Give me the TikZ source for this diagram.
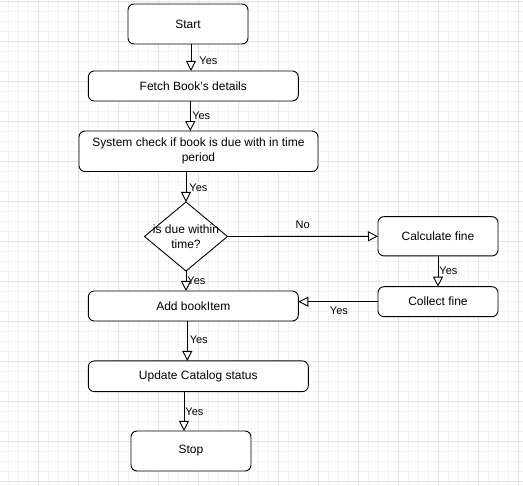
\documentclass[tikz,border=0pt]{standalone}
\usepackage{fontspec}
\setmainfont{Liberation Sans}
\usetikzlibrary{arrows.meta,shapes,positioning,calc,backgrounds}
\definecolor{gridmaj}{HTML}{E2E2E2}
\definecolor{gridmin}{HTML}{F4F4F4}

\begin{document}
\begin{tikzpicture}
[x=1pt,y=-1pt,
Proc/.style={draw,rounded corners=6pt,fill=white,line width=0.9pt,inner sep=0pt,outer sep=0pt,align=center,font=\fontsize{12}{15}\selectfont},
Dec/.style={draw,diamond,fill=white,line width=0.9pt,inner sep=0pt,outer sep=0pt,minimum width=83pt,minimum height=69pt},
dedge/.style={black,line width=0.9pt,-{Triangle[open,length=10pt,width=10pt]}},
lbl/.style={inner sep=0pt,font=\fontsize{11}{13}\selectfont}]
%%
\useasboundingbox (0,0) rectangle (523,486);
%%%%%%%%%%%%%%%%%%
% Grid
%%%%%%%%%%%%%%%%%%
\begin{pgfonlayer}{background}
\fill[white] (0,0) rectangle (523,486);
\foreach \x in {8.5,18.5,...,518.5} \draw[gridmin,line width=0.6pt] (\x,0) -- (\x,486);
\foreach \y in {11.7,21.7,...,481.7} \draw[gridmin,line width=0.6pt] (0,\y) -- (523,\y);
\foreach \x in {38.5,78.5,...,518.5} \draw[gridmaj,line width=0.8pt] (\x,0) -- (\x,486);
\foreach \y in {1.7,41.7,...,481.7} \draw[gridmaj,line width=0.8pt] (0,\y) -- (523,\y);
\end{pgfonlayer}
%%
%%%%%%%%%%%%%%%%%%
% Steps
%%%%%%%%%%%%%%%%%%
\node[Proc,minimum width=120pt,minimum height=40pt] (start) at (188,24) {Start};
\node[Proc,minimum width=210pt,minimum height=30pt] (fetch) at (193.3,86) {Fetch Book's details};
\node[Proc,minimum width=239pt,minimum height=40.5pt] (check) at (198.5,151.3) {System check if book is due with in time\\period};
\node[Dec,label={[align=center,font=\fontsize{12}{15}\selectfont]center:is due within\\time?}] (due) at (186,236.5) {};
\node[Proc,minimum width=120pt,minimum height=39.3pt] (calc) at (438,236.3) {Calculate fine};
\node[Proc,minimum width=120pt,minimum height=30pt] (collect) at (438,301.7) {Collect fine};
\node[Proc,minimum width=210pt,minimum height=30pt] (add) at (193.3,306) {Add bookItem};
\node[Proc,minimum width=220pt,minimum height=30.7pt] (update) at (198.3,376.3) {Update Catalog status};
\node[Proc,minimum width=120pt,minimum height=40pt] (stop) at (191,451) {Stop};
%%
%%%%%%%%%%%%%%%%%%
% Connectors
%%%%%%%%%%%%%%%%%%
\draw [dedge] ([xshift=3]start.south) -- ([xshift=3]start.south |- fetch.north) node [lbl,pos=0.63,right=8pt] {Yes};
\draw [dedge] ([xshift=-3]fetch.south) -- ([xshift=-3]fetch.south |- check.north) node [lbl,pos=0.49,right=1.5pt] {Yes};
\draw [dedge] (due.north |- check.south) -- (due.north) node [lbl,pos=0.53,right=3pt] {Yes};
\draw [dedge] (due.east) -- (calc.west) node [lbl,pos=0.5,above=7pt] {No};
\draw [dedge] (calc.south) -- (collect.north) node [lbl,pos=0.49,right=1pt] {Yes};
\draw [dedge] (collect.west) -- (collect.west -| add.east) node [lbl,pos=0.49,below=5pt] {Yes};
\draw [dedge] (due.south) -- (due.south |- add.north) node [lbl,pos=0.49,right=1pt] {Yes};
\draw [dedge] ([xshift=-6]add.south) -- ([xshift=-6]add.south |- update.north) node [lbl,pos=0.48,right=2pt] {Yes};
\draw [dedge] ([xshift=-7]stop.north |- update.south) -- ([xshift=-7]stop.north) node [lbl,pos=0.5,right=1pt] {Yes};
%%
\end{tikzpicture}
\end{document}
